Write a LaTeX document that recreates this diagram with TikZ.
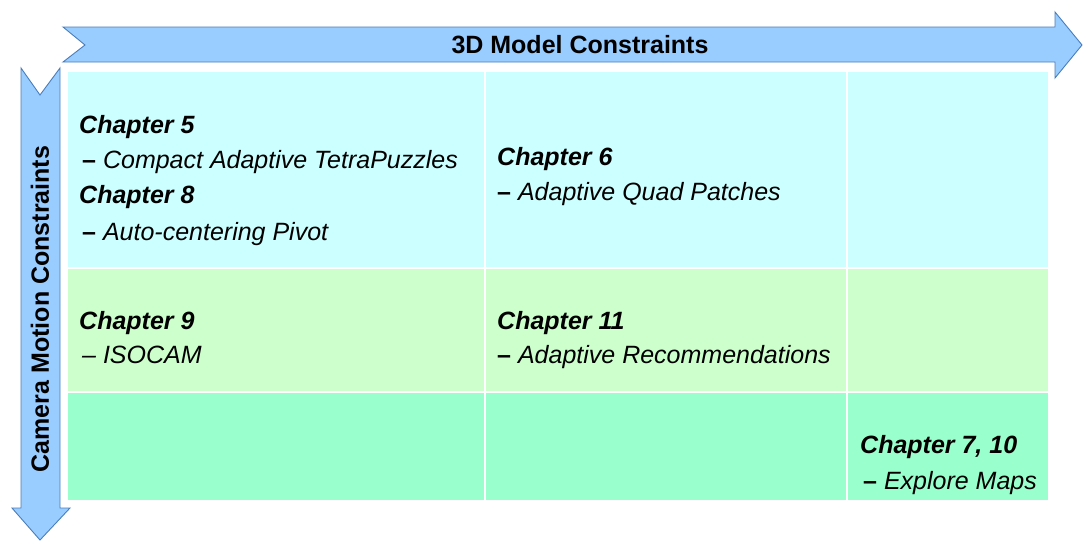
\documentclass[tikz,border=0pt]{standalone}
\usepackage{fontspec}
\setmainfont{Liberation Sans}
\definecolor{arrfill}{HTML}{99CCFF}
\definecolor{arrline}{HTML}{4A7EBB}
\definecolor{rowA}{HTML}{CCFFFF}
\definecolor{rowB}{HTML}{CCFFCC}
\definecolor{rowC}{HTML}{99FFCC}
\tikzset{
  bigarrow/.style={fill=arrfill,draw=arrline,line width=0.9pt,line join=miter},
  cell/.style={draw=white,line width=1.6pt},
  chap/.style={anchor=base west,inner sep=0pt,font=\fontsize{25}{29}\selectfont\bfseries\itshape},
  desc/.style={anchor=base west,inner sep=0pt,font=\fontsize{25}{29}\selectfont\itshape},
  axis/.style={inner sep=0pt,font=\fontsize{25}{29}\selectfont\bfseries}
}
\begin{document}
\begin{tikzpicture}[x=1pt,y=-1pt]
\useasboundingbox (0,0) rectangle (1083,541);
% arrows
\draw[bigarrow] (63,27) -- (1055,27) -- (1055,12) -- (1082,45) -- (1055,78) -- (1055,62) -- (63,62) -- (85,45) -- cycle;
\draw[bigarrow] (21,68) -- (40,95) -- (60,68) -- (60,508) -- (70,508) -- (40,540) -- (12,508) -- (21,508) -- cycle;
\node[axis] (top) at (580,45) {3D Model Constraints};
\node[axis,rotate=90] (left) at (40,309) {Camera Motion Constraints};
% grid
\fill[rowA] (68,72) rectangle (1048,268);
\fill[rowB] (68,268) rectangle (1048,392);
\fill[rowC] (68,392) rectangle (1048,500);
\draw[cell] (68,268) -- (1048,268);
\draw[cell] (68,392) -- (1048,392);
\draw[cell] (485,72) -- (485,500);
\draw[cell] (847,72) -- (847,500);
% texts
\node[chap] (c5) at (79,133) {Chapter 5};
\node[desc] (c5d) at (82,168) {\textbf{\upshape –} Compact Adaptive TetraPuzzles};
\node[chap] (c8) at (79,203) {Chapter 8};
\node[desc] (c8d) at (82,240) {\textbf{\upshape –} Auto-centering Pivot};
\node[chap] (c6) at (497,165) {Chapter 6};
\node[desc] (c6d) at (497,200) {\textbf{\upshape –} Adaptive Quad Patches};
\node[chap] (c9) at (79,329) {Chapter 9};
\node[desc] (c9d) at (82,363) {– ISOCAM};
\node[chap] (c11) at (497,329) {Chapter 11};
\node[desc] (c11d) at (497,363) {\textbf{\upshape –} Adaptive Recommendations};
\node[chap] (c7) at (860,453) {Chapter 7, 10};
\node[desc] (c7d) at (863,489) {\textbf{\upshape –} Explore Maps};
\end{tikzpicture}
\end{document}
